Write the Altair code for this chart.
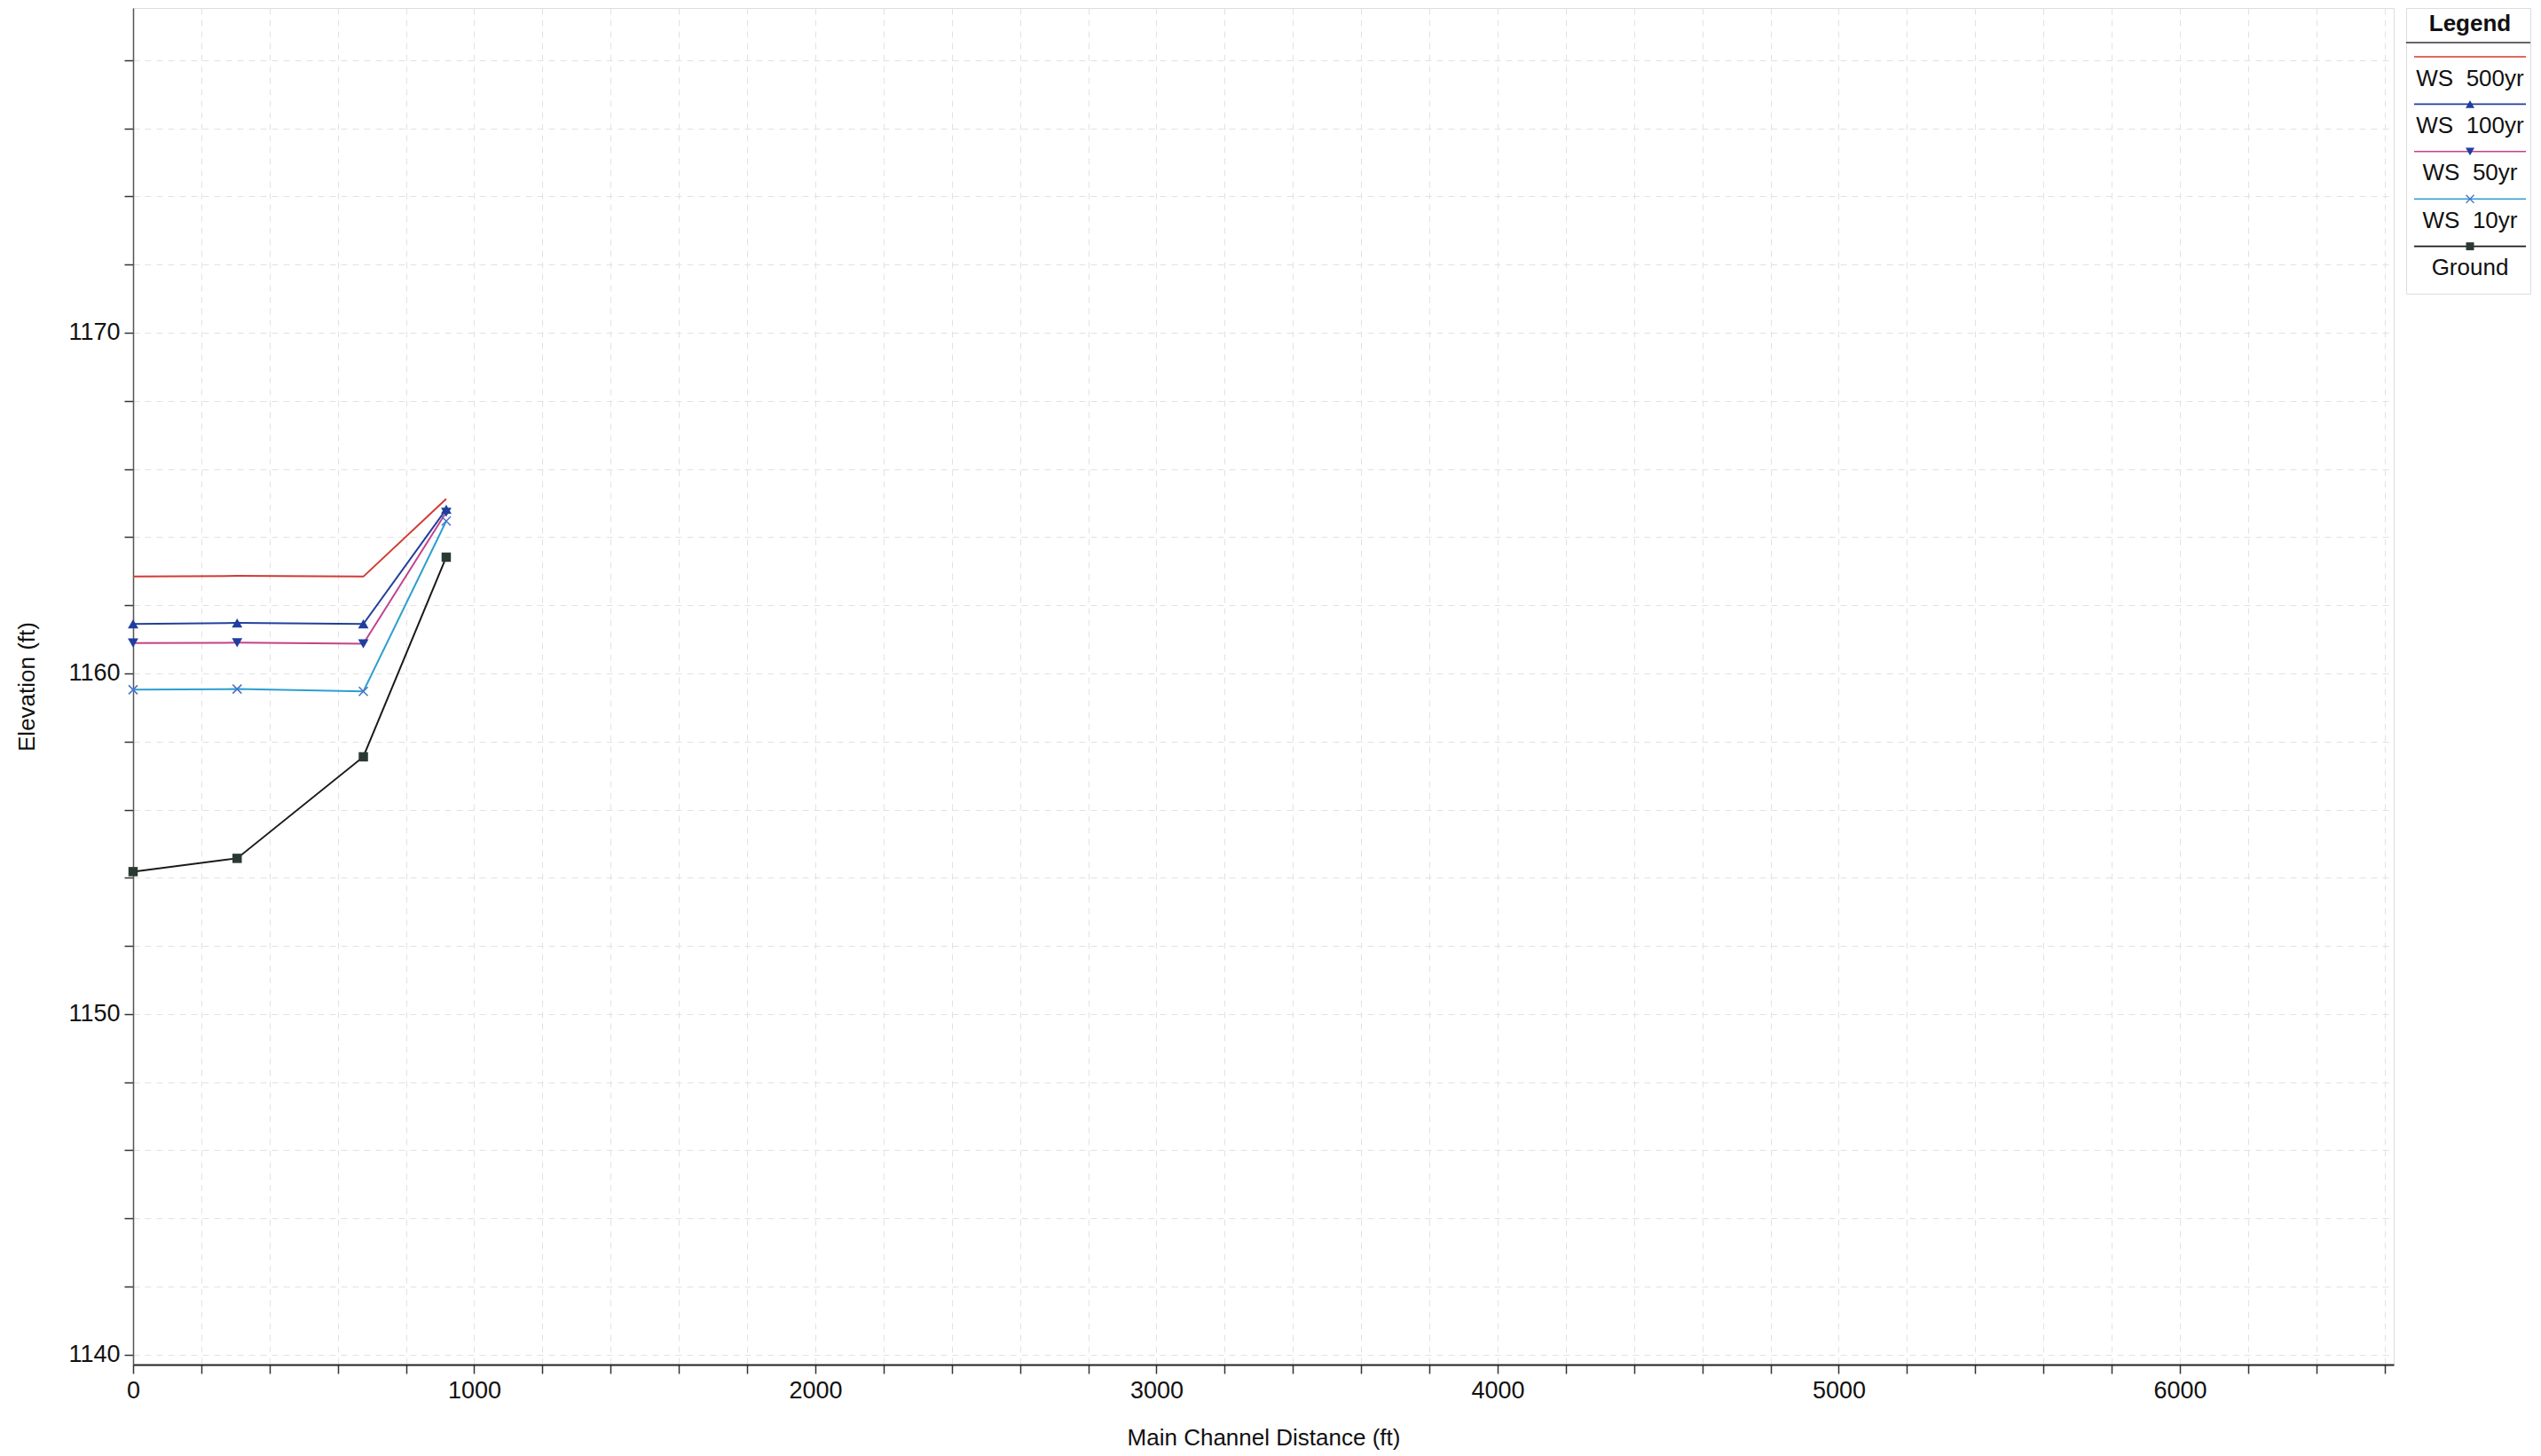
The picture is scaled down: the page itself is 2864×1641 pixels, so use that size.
import altair as alt
import pandas as pd

# ---- data ----
stations = [0, 305, 675, 918]
ws_500 = [1162.84, 1162.86, 1162.84, 1165.12]
ws_100 = [1161.45, 1161.48, 1161.45, 1164.82]
ws_50 = [1160.89, 1160.90, 1160.87, 1164.73]
ws_10 = [1159.52, 1159.54, 1159.47, 1164.47]
ground = [1154.18, 1154.57, 1157.55, 1163.41]

series_names = ["WS\u00a0 500yr", "WS\u00a0 100yr", "WS\u00a0 50yr", "WS\u00a0 10yr", "Ground"]
series_values = [ws_500, ws_100, ws_50, ws_10, ground]
line_colors = ["#d23a32", "#22409a", "#c2428c", "#2c9fcf", "#1a1a1a"]
marker_kind = ["none", "triangle-up", "triangle-down", "x", "square"]
marker_colors = ["#d23a32", "#1f3f9e", "#1f3f9e", "#4a74c8", "#2a3a32"]

x_ticks = list(range(0, 6601, 200))
y_ticks = list(range(1140, 1180, 1))

rows = []
for name, vals, kind in zip(series_names, series_values, marker_kind):
    for s, v in zip(stations, vals):
        rows.append({"series": name, "station": s, "elev": v, "kind": kind})
df = pd.DataFrame(rows)

FONT = "Liberation Sans"

color_scale = alt.Scale(domain=series_names, range=line_colors)
mcolor_scale = alt.Scale(domain=series_names, range=marker_colors)
X_PATH = "M-1,-1L1,1M-1,1L1,-1"

xs = alt.Scale(domain=[0, 6627], nice=False, zero=False)
ys = alt.Scale(domain=[1139.71, 1179.53], nice=False, zero=False)

x_enc = alt.X(
    "station:Q", scale=xs,
    axis=alt.Axis(
        values=x_ticks,
        labelExpr="datum.value % 1000 == 0 ? format(datum.value, 'd') : ''",
        title="Main Channel Distance (ft)",
        grid=True, gridColor="#e2e2e2", gridDash=[7, 6], gridWidth=1,
        tickSize=10, tickColor="#333", tickWidth=1.5,
        domainColor="#222", domainWidth=2,
        labelFont=FONT, labelFontSize=27, labelColor="#111", labelPadding=6,
        labelFlush=False, labelOverlap=False,
        titleFont=FONT, titleFontSize=26, titleFontWeight="normal",
        titleColor="#111", titlePadding=27,
    ),
)
y_enc = alt.Y(
    "elev:Q", scale=ys,
    axis=alt.Axis(
        values=y_ticks,
        labelExpr="datum.value % 10 == 0 ? format(datum.value, 'd') : ''",
        title="Elevation (ft)",
        grid=True, gridColor="#e2e2e2", gridDash=[7, 6], gridWidth=1,
        tickSize=10, tickColor="#333", tickWidth=1.5,
        domainColor="#555", domainWidth=1.5,
        labelFont=FONT, labelFontSize=27, labelColor="#111", labelPadding=5,
        labelFlush=False, labelOverlap=False,
        titleFont=FONT, titleFontSize=26, titleFontWeight="normal",
        titleColor="#111", titlePadding=33,
    ),
)

base = alt.Chart(df)
lines = base.mark_line(strokeWidth=2).encode(
    x=x_enc, y=y_enc,
    color=alt.Color("series:N", scale=color_scale, legend=None),
    detail="series:N",
    order="station:Q",
)


def filled_pts(kind, shape, size):
    return base.transform_filter(f"datum.kind == '{kind}'").mark_point(
        shape=shape, filled=True, size=size, opacity=1, strokeWidth=0
    ).encode(x="station:Q", y="elev:Q",
             fill=alt.Fill("series:N", scale=mcolor_scale, legend=None))


tri_up = filled_pts("triangle-up", "triangle-up", 140)
tri_dn = filled_pts("triangle-down", "triangle-down", 140)
sq = filled_pts("square", "square", 110)
xm = base.transform_filter("datum.kind == 'x'").mark_point(
    shape=X_PATH, filled=False, size=100, strokeWidth=1.6, opacity=1
).encode(x="station:Q", y="elev:Q",
         stroke=alt.Stroke("series:N", scale=mcolor_scale, legend=None))

main = alt.layer(lines, tri_up, tri_dn, sq, xm).properties(width=2548, height=1529)

# ---- custom legend box (line sample above each label) ----
leg_df = pd.DataFrame({
    "series": series_names,
    "row": list(range(len(series_names))),
    "kind": marker_kind,
})
LW = 140
ly = alt.Scale(domain=[-1.03, 5.0], reverse=True, nice=False, zero=False)
lbase = alt.Chart(leg_df)
leg_lines = lbase.mark_rule(strokeWidth=1.6).encode(
    y=alt.Y("row:Q", scale=ly, axis=None),
    x=alt.value(9), x2=alt.value(LW - 5),
    color=alt.Color("series:N", scale=color_scale, legend=None),
)


def leg_pts(kind, shape, size):
    return lbase.transform_filter(f"datum.kind == '{kind}'").mark_point(
        shape=shape, filled=True, size=size, opacity=1, strokeWidth=0
    ).encode(y=alt.Y("row:Q", scale=ly, axis=None), x=alt.value(LW / 2 + 2),
             fill=alt.Fill("series:N", scale=mcolor_scale, legend=None))


leg_tu = leg_pts("triangle-up", "triangle-up", 100)
leg_td = leg_pts("triangle-down", "triangle-down", 100)
leg_sq = leg_pts("square", "square", 80)
leg_x = lbase.transform_filter("datum.kind == 'x'").mark_point(
    shape=X_PATH, filled=False, size=80, strokeWidth=1.4, opacity=1
).encode(y=alt.Y("row:Q", scale=ly, axis=None), x=alt.value(LW / 2 + 2),
         stroke=alt.Stroke("series:N", scale=mcolor_scale, legend=None))
leg_text = lbase.transform_calculate(label_row="datum.row + 0.46").mark_text(
    font=FONT, fontSize=26, color="#111", align="center", baseline="middle"
).encode(y=alt.Y("label_row:Q", scale=ly, axis=None), x=alt.value(LW / 2 + 2), text="series:N")
leg_title = alt.Chart(pd.DataFrame({"t": ["Legend"]})).mark_text(
    font=FONT, fontSize=26, fontWeight="bold", color="#111", align="center", baseline="middle"
).encode(y=alt.datum(-0.70, scale=ly), x=alt.value(LW / 2 + 2), text="t:N")
leg_sep = alt.Chart(pd.DataFrame({"t": ["sep"]})).mark_rule(color="#333", strokeWidth=1.5).encode(
    y=alt.datum(-0.3, scale=ly), x=alt.value(0), x2=alt.value(LW)
)
legend = alt.layer(leg_lines, leg_tu, leg_td, leg_sq, leg_x, leg_text, leg_title, leg_sep).properties(
    width=LW, height=322
)

chart = alt.hconcat(main, legend, spacing=11).resolve_scale(
    color="independent", y="independent"
).properties(
    padding={"left": 9, "top": 0, "right": 0, "bottom": 0}
).configure_view(
    stroke="#444", strokeWidth=1.5
).configure(background="white")

chart.save("out.html", embed_options={"renderer": "svg", "actions": False})
